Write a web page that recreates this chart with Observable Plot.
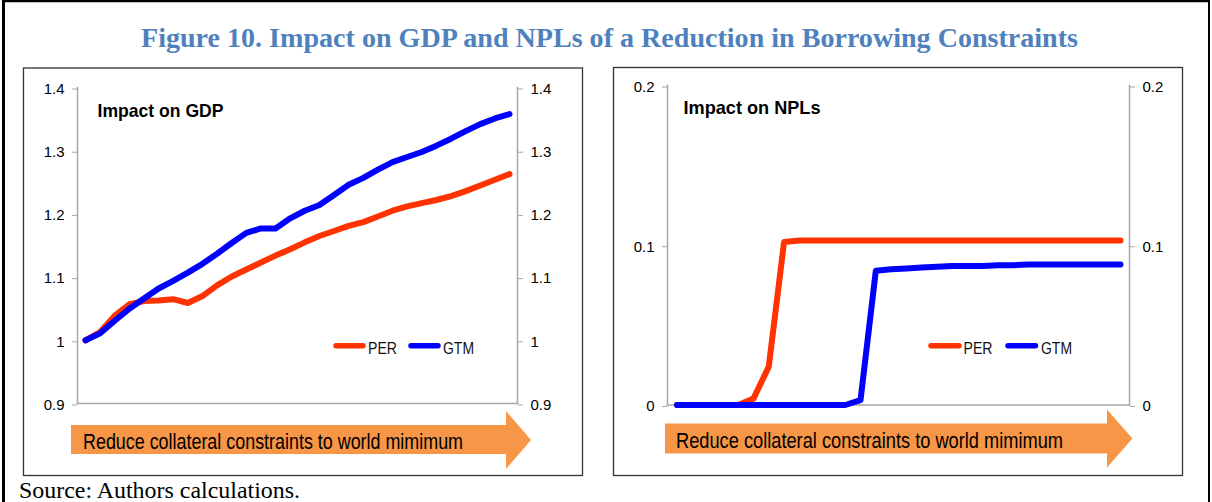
<!DOCTYPE html>
<html>
<head>
<meta charset="utf-8">
<script src="https://cdn.jsdelivr.net/npm/d3@7"></script>
<script src="https://cdn.jsdelivr.net/npm/@observablehq/plot@0.6"></script>
<style>
  html, body { margin: 0; padding: 0; background: #fff; }
  body { width: 1212px; height: 502px; overflow: hidden; position: relative; font-family: "Liberation Sans", Arial, sans-serif; }
  .abs { position: absolute; }
  #overlay { position: absolute; left: 0; top: 0; pointer-events: none; }
</style>
</head>
<body>
<div id="gdp" class="abs" style="left:23px;top:68px;"></div>
<div id="npl" class="abs" style="left:613px;top:67px;"></div>
<script>
// ---------------- data ----------------
const titleText = "Figure 10. Impact on GDP and NPLs of a Reduction in Borrowing Constraints";
const sourceText = "Source: Authors calculations.";
const panelTitles = ["Impact on GDP", "Impact on NPLs"];
const arrowLabel = "Reduce collateral constraints to world mimimum";
const seriesNames = ["PER", "GTM"];
const seriesColors = ["#ff3300", "#0000ff"];
const steps = [1, 2, 3, 4, 5, 6, 7, 8, 9, 10, 11, 12, 13, 14, 15, 16, 17, 18, 19, 20, 21, 22, 23, 24, 25, 26, 27, 28, 29, 30];
const gdpPER = [1.000, 1.013, 1.039, 1.057, 1.062, 1.063, 1.065, 1.059, 1.070, 1.087, 1.101, 1.112, 1.123, 1.134, 1.144, 1.155, 1.165, 1.173, 1.181, 1.187, 1.196, 1.205, 1.212, 1.217, 1.222, 1.228, 1.236, 1.245, 1.254, 1.263];
const gdpGTM = [1.000, 1.011, 1.031, 1.050, 1.066, 1.082, 1.094, 1.107, 1.121, 1.137, 1.154, 1.170, 1.177, 1.177, 1.193, 1.205, 1.214, 1.230, 1.246, 1.257, 1.270, 1.282, 1.290, 1.298, 1.308, 1.319, 1.331, 1.342, 1.351, 1.358];
const nplPER = [0, 0, 0, 0, 0, 0.004, 0.024, 0.102, 0.103, 0.103, 0.103, 0.103, 0.103, 0.103, 0.103, 0.103, 0.103, 0.103, 0.103, 0.103, 0.103, 0.103, 0.103, 0.103, 0.103, 0.103, 0.103, 0.103, 0.103, 0.103];
const nplGTM = [0, 0, 0, 0, 0, 0, 0, 0, 0, 0, 0, 0, 0.003, 0.084, 0.085, 0.0855, 0.086, 0.0865, 0.087, 0.087, 0.087, 0.0875, 0.0875, 0.088, 0.088, 0.088, 0.088, 0.088, 0.088, 0.088];
const gdpTicks = [0.9, 1, 1.1, 1.2, 1.3, 1.4];
const nplTicks = [0, 0.1, 0.2];

// ---------------- helpers ----------------
function rows(per, gtm) {
  return [
    ...steps.map((s, i) => ({ step: s, series: seriesNames[0], value: per[i] })),
    ...steps.map((s, i) => ({ step: s, series: seriesNames[1], value: gtm[i] }))
  ];
}

const AXIS = "#a6a6a6";
function chart(o) {
  const axisOpts = { ticks: o.ticks, tickFormat: d => String(d), tickSize: 5, tickPadding: 8, stroke: AXIS, fill: "#000", fontSize: 15, dy: 1.5, label: null };
  const svg = Plot.plot({
    width: o.width, height: o.height,
    marginLeft: o.ml, marginRight: o.mr, marginTop: o.mt, marginBottom: o.mb,
    style: { fontFamily: "'Liberation Sans', Arial, sans-serif", fontSize: "15px", background: "transparent", overflow: "visible", color: "#000" },
    x: { domain: [steps[0], steps[steps.length - 1]], insetLeft: o.insetL, insetRight: o.insetR, axis: null },
    y: { domain: o.domain, axis: null },
    color: { domain: seriesNames, range: seriesColors },
    marks: [
      Plot.frame({ anchor: "left", stroke: AXIS, strokeWidth: 1.5 }),
      Plot.frame({ anchor: "right", stroke: AXIS, strokeWidth: 1.5 }),
      Plot.frame({ anchor: "bottom", stroke: AXIS, strokeWidth: 1.5 }),
      Plot.axisY({ anchor: "left", ...axisOpts }),
      Plot.axisY({ anchor: "right", ...axisOpts }),
      Plot.line(o.data, { x: "step", y: "value", z: "series", stroke: "series", strokeWidth: 6, strokeLinecap: "round", strokeLinejoin: "round" }),
      Plot.text([o.title], { frameAnchor: "top-left", lineAnchor: "bottom", textAnchor: "start", dx: o.tdx, dy: o.tdy, fontWeight: "bold", fontSize: 19, fill: "#000" })
    ]
  });
  d3.select(svg).selectAll("text").filter(function () { return this.textContent === o.title; })
    .attr("textLength", o.tlen).attr("lengthAdjust", "spacingAndGlyphs");
  return svg;
}

document.getElementById("gdp").appendChild(chart({
  data: rows(gdpPER, gdpGTM), ticks: gdpTicks, domain: [0.9, 1.4],
  width: 560, height: 408, ml: 54, mr: 66, mt: 19, mb: 73, insetL: 8, insetR: 8,
  title: panelTitles[0], tdx: 20, tdy: 29, tlen: 126
}));
document.getElementById("npl").appendChild(chart({
  data: rows(nplPER, nplGTM), ticks: nplTicks, domain: [0, 0.2],
  width: 570, height: 409, ml: 54, mr: 54, mt: 18, mb: 71.5, insetL: 9.5, insetR: 9,
  title: panelTitles[1], tdx: 16, tdy: 28.3, tlen: 137
}));

// ---------------- overlay: frame, title, arrows, legends, source ----------------
const ov = d3.select("body").append("svg").attr("id", "overlay").attr("width", 1212).attr("height", 502);
// outer frame
ov.append("line").attr("x1", 3.5).attr("x2", 3.5).attr("y1", 0).attr("y2", 502).attr("stroke", "#000").attr("stroke-width", 3);
ov.append("line").attr("x1", 2).attr("x2", 1210).attr("y1", 1).attr("y2", 1).attr("stroke", "#000").attr("stroke-width", 2.5);
ov.append("line").attr("x1", 1209).attr("x2", 1209).attr("y1", 0).attr("y2", 502).attr("stroke", "#000").attr("stroke-width", 2);
// panel borders
ov.append("rect").attr("x", 23.5).attr("y", 68).attr("width", 559).attr("height", 407.5).attr("fill", "none").attr("stroke", "#333").attr("stroke-width", 1.3);
ov.append("rect").attr("x", 613.5).attr("y", 67.5).attr("width", 569).attr("height", 408).attr("fill", "none").attr("stroke", "#333").attr("stroke-width", 1.3);
// title
ov.append("text").attr("x", 609.5).attr("y", 47).attr("text-anchor", "middle")
  .attr("font-family", "'Liberation Serif', 'Times New Roman', serif").attr("font-weight", "bold").attr("font-size", 28)
  .attr("fill", "#4f81bd").attr("textLength", 937).attr("lengthAdjust", "spacingAndGlyphs").text(titleText);
// source
ov.append("text").attr("x", 19).attr("y", 498)
  .attr("font-family", "'Liberation Serif', 'Times New Roman', serif").attr("font-size", 23.5)
  .attr("fill", "#000").attr("textLength", 281).attr("lengthAdjust", "spacingAndGlyphs").text(sourceText);

// arrows
const arrows = [
  { pts: [[71, 425], [506, 425], [506, 411], [531, 440], [506, 469], [506, 454], [71, 454]], tx: 83, ty: 449, tl: 380 },
  { pts: [[665, 423.5], [1107, 423.5], [1107, 409.5], [1132.5, 438.5], [1107, 467.5], [1107, 453.5], [665, 453.5]], tx: 676, ty: 447.5, tl: 387 }
];
arrows.forEach(a => {
  ov.append("polygon").attr("points", a.pts.map(p => p.join(",")).join(" ")).attr("fill", "#f79646");
  ov.append("text").attr("x", a.tx).attr("y", a.ty)
    .attr("font-family", "'Liberation Sans', Arial, sans-serif").attr("font-size", 21.5).attr("fill", "#000")
    .attr("textLength", a.tl).attr("lengthAdjust", "spacingAndGlyphs").text(arrowLabel);
});

// legends
const legends = [
  { items: [{ x1: 336, x2: 363, tx: 368, tl: 29 }, { x1: 411, x2: 438, tx: 443, tl: 31 }] },
  { items: [{ x1: 931, x2: 959, tx: 963.5, tl: 29 }, { x1: 1008, x2: 1035.5, tx: 1041, tl: 31 }] }
];
legends.forEach(lg => {
  lg.items.forEach((it, i) => {
    ov.append("line").attr("x1", it.x1).attr("x2", it.x2).attr("y1", 345.7).attr("y2", 345.7)
      .attr("stroke", seriesColors[i]).attr("stroke-width", 5.5).attr("stroke-linecap", "round");
    ov.append("text").attr("x", it.tx).attr("y", 354)
      .attr("font-family", "'Liberation Sans', Arial, sans-serif").attr("font-size", 16).attr("fill", "#111")
      .attr("textLength", it.tl).attr("lengthAdjust", "spacingAndGlyphs").text(seriesNames[i]);
  });
});
</script>
</body>
</html>
